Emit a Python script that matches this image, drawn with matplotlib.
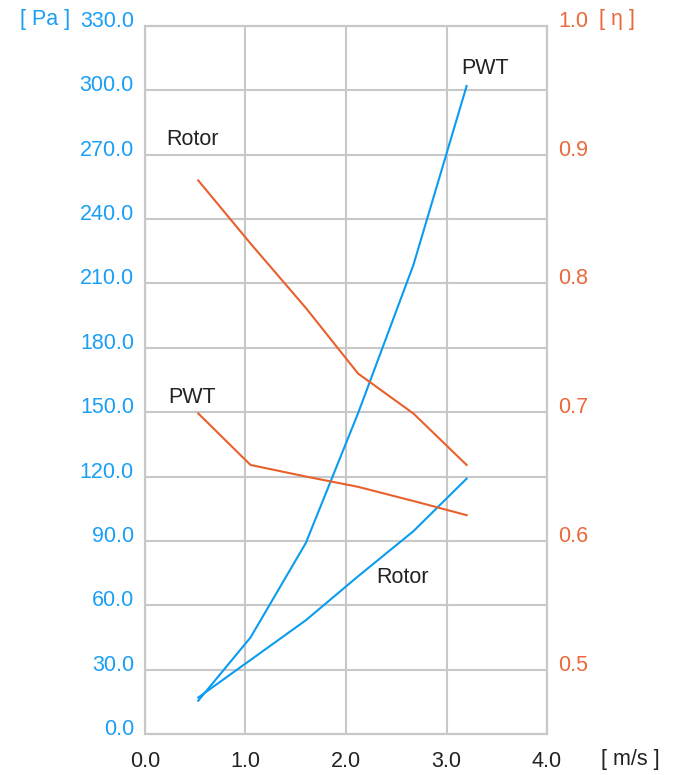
import matplotlib
matplotlib.use('Agg')
import matplotlib.pyplot as plt
import matplotlib.transforms as mtransforms
import numpy as np

plt.rcParams['font.family'] = ['Liberation Sans', 'DejaVu Sans']

# flow speed [m/s]
speed = [0.53, 1.05, 1.6, 2.12, 2.67, 3.2]

# pressure [Pa]
pa_pwt = [15.5, 45.0, 89.0, 149.5, 218.5, 302.0]
pa_rotor = [17.0, 34.5, 53.0, 73.5, 94.5, 119.0]

# efficiency [eta]
eta_rotor = [0.880, 0.831, 0.781, 0.730, 0.699, 0.659]
eta_pwt = [0.699, 0.659, 0.650, 0.642, 0.631, 0.620]

pa_ticks = np.arange(0, 331, 30)
eta_ticks = [0.5, 0.6, 0.7, 0.8, 0.9, 1.0]
x_ticks = [0.0, 1.0, 2.0, 3.0, 4.0]

BLUE = '#0a9cf0'
ORANGE = '#e8602c'
GRID = '#c8c8c8'
BLUE_TXT = '#1a9ff5'
ORANGE_TXT = '#e8693a'
FS = 15.5

fig = plt.figure(figsize=(6.75, 7.75), dpi=100)
ax = fig.add_axes([0.2148, 0.0529, 0.5956, 0.9136])
ax2 = ax.twinx()

ax.set_xlim(0, 4)
ax.set_ylim(0, 330)
ax2.set_ylim(0.45, 1.0)

ax.set_xticks(x_ticks)
ax.set_xticklabels([f'{v:.1f}' for v in x_ticks])
ax.set_yticks(pa_ticks)
ax.set_yticklabels([f'{v:.1f}' for v in pa_ticks])
ax2.set_yticks(eta_ticks)
ax2.set_yticklabels([f'{v:.1f}' for v in eta_ticks])

ax.grid(True, color=GRID, lw=1.5)
ax.set_axisbelow(True)
for a in (ax, ax2):
    for s in a.spines.values():
        s.set_color(GRID)
        s.set_linewidth(1.5)

ax.tick_params(axis='y', length=0, pad=8, labelsize=FS, labelcolor=BLUE_TXT)
ax.tick_params(axis='x', length=0, pad=12, labelsize=FS, labelcolor='#222222')
ax2.tick_params(axis='y', length=0, pad=8, labelsize=FS, labelcolor=ORANGE_TXT)

shift = mtransforms.ScaledTranslation(0, 0.07, fig.dpi_scale_trans)
for lab in ax.get_yticklabels() + ax2.get_yticklabels():
    lab.set_transform(lab.get_transform() + shift)

ax.plot(speed, pa_pwt, color=BLUE, lw=1.5)
ax.plot(speed, pa_rotor, color=BLUE, lw=1.5)
ax2.plot(speed, eta_rotor, color=ORANGE, lw=1.5)
ax2.plot(speed, eta_pwt, color=ORANGE, lw=1.5)

ax.text(0.47, 277, 'Rotor', fontsize=FS, color='#222222', ha='center', va='center')
ax.text(0.47, 157, 'PWT', fontsize=FS, color='#222222', ha='center', va='center')
ax.text(3.38, 310, 'PWT', fontsize=FS, color='#222222', ha='center', va='center')
ax.text(2.56, 73, 'Rotor', fontsize=FS, color='#222222', ha='center', va='center')

fig.text(45 / 675, 1 - 20 / 775, '[ Pa ]', fontsize=FS, color=BLUE_TXT, ha='center', va='center')
fig.text(617 / 675, 1 - 20 / 775, '[ \u03b7 ]', fontsize=FS, color=ORANGE_TXT, ha='center', va='center')
fig.text(630 / 675, 1 - 760 / 775, '[ m/s ]', fontsize=FS, color='#222222', ha='center', va='center')

fig.savefig('out.png', dpi=100)
